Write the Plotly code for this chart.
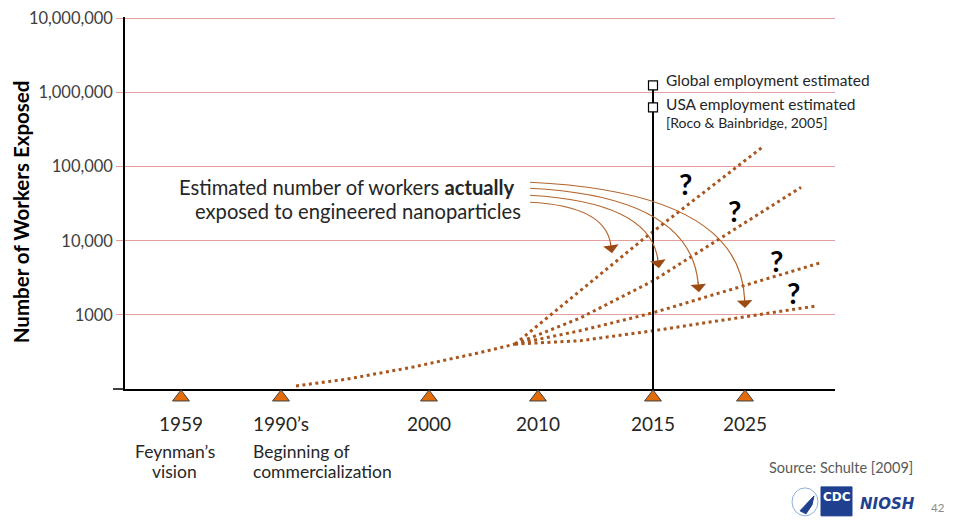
import math
import plotly.graph_objects as go

# ---------------- data ----------------
# timeline positions (arbitrary timeline units, axis spans 0..710)
milestone_labels = ["1959", "1990’s", "2000", "2010", "2015", "2025"]
milestone_pos = [56, 156, 304, 413, 528, 620]

y_tickvals = [1e3, 1e4, 1e5, 1e6, 1e7]
y_ticktext = ["1000", "10,000", "100,000", "1,000,000", "10,000,000"]

global_est = 1.25e6   # Global employment estimated
usa_est = 6.3e5       # USA employment estimated

# historical trend of workers actually exposed
base_x = [171, 222, 288, 322, 355, 390]
base_y = [110, 136, 198, 250, 310, 404]

# four projected scenarios
scen1_x = [390, 517, 637]
scen1_y = [404, 10200, 182000]
scen2_x = [390, 455, 528, 676]
scen2_y = [404, 906, 2880, 52700]
scen3_x = [390, 455, 528, 695]
scen3_y = [404, 611, 1067, 5030]
scen4_x = [390, 455, 528, 690]
scen4_y = [404, 448, 611, 1315]

# ---------------- style / layout helpers ----------------
FONT = "Lato"
DOT = "#A8561E"
ARROW = "#B5652C"
GRID = "#E59E9E"
TRI = "#E36C0A"
TXT = "#262626"
XMAX = 710
PX_PER_DEC = 74.2
YTOP = 7.02
AXB = 389                                        # window y of the x axis line
PL, PR, PB = 125, 835, 405                       # window frame of the plot area
PT = AXB - (YTOP - 2) * PX_PER_DEC
DOM0 = (PB - AXB) / (PB - PT)                    # bottom of main y domain
OFF = 8                                          # page body margin
W, H = 954 - 2 * OFF, 525 - 2 * OFF


def pxx(px):
    return (px - PL) / (PR - PL)


def pxy(py):
    return (PB - py) / (PB - PT)


def ylog(py):
    return 2 + (AXB - py) / PX_PER_DEC


fig = go.Figure()

# dotted trend lines
for xs, ys in [(base_x, base_y), (scen1_x, scen1_y), (scen2_x, scen2_y),
               (scen3_x, scen3_y), (scen4_x, scen4_y)]:
    fig.add_trace(go.Scatter(x=xs, y=ys, mode="lines",
                             line=dict(color=DOT, width=3, dash="3px,3.5px"),
                             hoverinfo="skip", showlegend=False))

# 2015 vertical line
x2015 = milestone_pos[4]
fig.add_trace(go.Scatter(x=[x2015, x2015], y=[100, global_est], mode="lines",
                         line=dict(color="black", width=2), showlegend=False,
                         hoverinfo="skip"))

shapes = []
annotations = []

# horizontal estimate lines (extend slightly left of axis)
for v in [global_est, usa_est]:
    shapes.append(dict(type="line", xref="paper", yref="y",
                       x0=pxx(118), x1=x2015 / XMAX, y0=math.log10(v), y1=math.log10(v),
                       line=dict(color="black", width=2)))

# square markers
fig.add_trace(go.Scatter(x=[x2015, x2015], y=[global_est, usa_est], mode="markers",
                         marker=dict(symbol="square", size=9, color="white",
                                     line=dict(color="black", width=1.2)),
                         cliponaxis=False, showlegend=False, hoverinfo="skip"))

# milestone triangles on a thin strip below the axis
fig.add_trace(go.Scatter(x=milestone_pos, y=[0.48] * len(milestone_pos), mode="markers",
                         xaxis="x", yaxis="y2",
                         marker=dict(symbol="triangle-up", size=14.6, color=TRI,
                                     line=dict(color="#404040", width=1)),
                         cliponaxis=False, showlegend=False, hoverinfo="skip"))

# bottom axis extension to the left
shapes.append(dict(type="line", xref="paper", yref="paper", x0=pxx(113), x1=0,
                   y0=DOM0, y1=DOM0, line=dict(color="black", width=1.5)))

# curved arrows (start, control, end) in x units / log10 y
arrows = [
    ((405, 4.790), (615, 4.655), (620, 3.092)),
    ((405, 4.709), (565, 4.601), (574, 3.307)),
    ((405, 4.615), (525, 4.520), (534, 3.631)),
    ((405, 4.520), (480, 4.470), (487, 3.833)),
]
head_len = 9
for (sx, sy), (cx, cy), (tx, ty) in arrows:
    dx = tx - cx
    dy = -(ty - cy) * PX_PER_DEC
    n = math.hypot(dx, dy)
    ux, uy = dx / n, dy / n
    ex = tx - ux * head_len
    ey = ty + (uy * head_len) / PX_PER_DEC
    shapes.append(dict(type="path", xref="x", yref="y",
                       path=f"M {sx},{10**sy:.3f} Q {cx},{10**cy:.3f} {ex:.2f},{10**ey:.3f}",
                       line=dict(color=ARROW, width=1.2)))
    annotations.append(dict(x=tx, y=ty, xref="x", yref="y", text="", showarrow=True,
                            ax=-ux * 12, ay=-uy * 12, arrowhead=1, arrowsize=2.6,
                            arrowwidth=1, arrowcolor="#9C4A14"))

# main callout text (two lines)
annotations.append(dict(x=517 - PL, y=ylog(187), xref="x", yref="y",
                        text="Estimated number of workers <b>actually</b>",
                        showarrow=False, xanchor="right", yanchor="middle",
                        font=dict(family=FONT, size=20.2, color=TXT)))
annotations.append(dict(x=523 - PL, y=ylog(211), xref="x", yref="y",
                        text="exposed to engineered nanoparticles",
                        showarrow=False, xanchor="right", yanchor="middle",
                        font=dict(family=FONT, size=20.2, color=TXT)))
# question marks
for qx, qy in [(685, 183), (734, 210), (776, 260), (793, 292)]:
    annotations.append(dict(x=qx - PL, y=ylog(qy), xref="x", yref="y", text="<b>?</b>",
                            showarrow=False, xanchor="center", yanchor="middle",
                            font=dict(family=FONT, size=29, color="black")))
# estimate labels
for txt, py, sz in [("Global employment estimated", 80, 15.5),
                    ("USA employment estimated", 104, 15.5),
                    ("[Roco &amp; Bainbridge, 2005]", 122, 14)]:
    annotations.append(dict(x=664 - PL, y=ylog(py), xref="x", yref="y", text=txt,
                            showarrow=False, xanchor="left", yanchor="middle",
                            font=dict(family=FONT, size=sz, color=TXT)))
# milestone notes
for txt, px, py, anc in [("Feynman’s", 175, 452, "center"), ("vision", 174, 472, "center"),
                         ("Beginning of", 251, 452, "left"),
                         ("commercialization", 251, 472, "left")]:
    annotations.append(dict(x=pxx(px), y=pxy(py), xref="paper", yref="paper", text=txt,
                            showarrow=False, xanchor=anc, yanchor="middle",
                            font=dict(family=FONT, size=17.5, color=TXT)))
# y axis title
annotations.append(dict(x=pxx(21), y=pxy(212), xref="paper", yref="paper",
                        text="<b>Number of Workers Exposed</b>", textangle=-90, showarrow=False,
                        xanchor="center", yanchor="middle", borderpad=0, borderwidth=0,
                        font=dict(family=FONT, size=20.5, color="black")))
# source & page number
annotations.append(dict(x=pxx(841), y=pxy(468), xref="paper", yref="paper",
                        text="Source: Schulte [2009]", showarrow=False,
                        xanchor="center", yanchor="middle",
                        font=dict(family=FONT, size=14.5, color="#595959")))
annotations.append(dict(x=pxx(938), y=pxy(508), xref="paper", yref="paper",
                        text="42", showarrow=False, xanchor="center", yanchor="middle",
                        borderpad=0, borderwidth=0,
                        font=dict(family=FONT, size=11.5, color="#8C8C8C")))
# logos (approximate)
shapes.append(dict(type="rect", xref="paper", yref="paper",
                   x0=pxx(821), x1=pxx(852), y0=pxy(516), y1=pxy(487),
                   fillcolor="#1F3F8F", line=dict(color="#1F3F8F", width=1)))
shapes.append(dict(type="circle", xref="paper", yref="paper",
                   x0=pxx(792), x1=pxx(818), y0=pxy(516), y1=pxy(488),
                   line=dict(color="#8FB0DA", width=1)))
shapes.append(dict(type="path", xref="paper", yref="paper",
                   path=(f"M {pxx(800)},{pxy(511)} L {pxx(814)},{pxy(496)} "
                         f"L {pxx(812)},{pxy(505)} L {pxx(806)},{pxy(514)} Z"),
                   fillcolor="#1F3F8F", line=dict(color="#1F3F8F", width=1)))
annotations.append(dict(x=pxx(836.5), y=pxy(497), xref="paper", yref="paper",
                        text="<b>CDC</b>", showarrow=False, xanchor="center", yanchor="middle",
                        font=dict(family="DejaVu Sans", size=12, color="white")))
annotations.append(dict(x=pxx(888), y=pxy(504), xref="paper", yref="paper",
                        text="<b><i>NIOSH</i></b>", showarrow=False, xanchor="center",
                        yanchor="middle",
                        font=dict(family="DejaVu Sans", size=15, color="#1F3F8F")))

fig.update_layout(
    width=W, height=H,
    margin=dict(l=PL - OFF, r=(W + OFF) - PR, t=PT - OFF, b=(H + OFF) - PB, autoexpand=False),
    paper_bgcolor="white", plot_bgcolor="white",
    showlegend=False,
    shapes=shapes,
    annotations=annotations,
    xaxis=dict(range=[0, XMAX], showgrid=False, zeroline=False, anchor="y",
               showline=True, linecolor="black", linewidth=1.5, automargin=False,
               tickmode="array", tickvals=milestone_pos, ticktext=milestone_labels,
               ticks="", ticklabelstandoff=17, ticklabeloverflow="allow",
               tickfont=dict(family=FONT, size=19, color=TXT), fixedrange=True),
    yaxis=dict(type="log", range=[2, YTOP], domain=[DOM0, 1], showgrid=True, gridcolor=GRID,
               gridwidth=1, automargin=False, ticklabeloverflow="allow",
               zeroline=False, showline=True, linecolor="black", linewidth=1.5,
               tickmode="array", tickvals=y_tickvals, ticktext=y_ticktext,
               ticks="outside", ticklen=7, tickcolor=GRID, tickwidth=1,
               tickfont=dict(family=FONT, size=16.5, color="#404040"), fixedrange=True),
    yaxis2=dict(range=[0, 1], domain=[0, DOM0], visible=False, fixedrange=True,
                automargin=False),
)

fig.write_html("out.html")
